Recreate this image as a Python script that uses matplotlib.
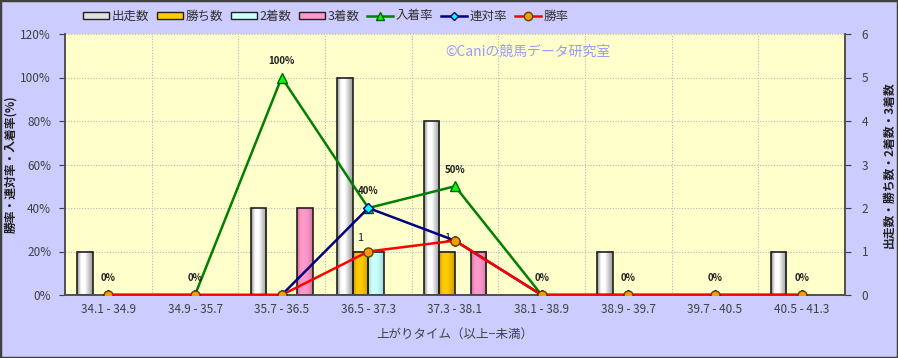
import numpy as np
import matplotlib
matplotlib.use("Agg")
import matplotlib.pyplot as plt
from matplotlib.patches import Rectangle, Patch
from matplotlib.lines import Line2D
from matplotlib.colors import LinearSegmentedColormap

plt.rcParams['font.family'] = ['Noto Sans CJK JP', 'DejaVu Sans']

# data
categories = ['34.1 - 34.9', '34.9 - 35.7', '35.7 - 36.5', '36.5 - 37.3', '37.3 - 38.1',
              '38.1 - 38.9', '38.9 - 39.7', '39.7 - 40.5', '40.5 - 41.3']
starts = [1, 0, 2, 5, 4, 0, 1, 0, 1]
wins = [0, 0, 0, 1, 1, 0, 0, 0, 0]
seconds = [0, 0, 0, 1, 0, 0, 0, 0, 0]
thirds = [0, 0, 2, 0, 1, 0, 0, 0, 0]
place_rate = [0, 0, 100, 40, 50, 0, 0, 0, 0]
rentai_rate = [0, 0, 0, 40, 25, 0, 0, 0, 0]
win_rate = [0, 0, 0, 20, 25, 0, 0, 0, 0]

bg = '#CCCCFF'
plotbg = '#FFFFCC'
txt = '#404040'

fig = plt.figure(figsize=(8.98, 3.58), dpi=100, facecolor=bg)
ax = fig.add_axes([65/898, 1-295/358, 780/898, 261/358])
ax.set_facecolor(plotbg)
ax2 = ax.twinx()
ax2.patch.set_visible(False)

x = np.arange(len(categories))
w = 0.179

def shaded_bars(vals, offset, cols):
    cmap = LinearSegmentedColormap.from_list('s', cols)
    grad = np.linspace(0, 1, 64).reshape(1, -1)
    bars = ax.bar(x + offset, vals, w, align='edge', facecolor='none',
                  edgecolor='#202020', linewidth=1.2, zorder=3)
    for b in bars:
        if b.get_height() <= 0:
            b.set_visible(False)
            continue
        ax.imshow(grad, cmap=cmap, aspect='auto', zorder=2.5, interpolation='bicubic',
                  extent=[b.get_x(), b.get_x() + b.get_width(), 0, b.get_height()])
    return bars

shaded_bars(starts, -2*w, ['#8a8a8a', '#ffffff', '#ffffff', '#c8c8c8', '#9a9a9a'])
shaded_bars(wins, -w, ['#c89800', '#ffcc00', '#ffcc00', '#e8b800', '#c89800'])
shaded_bars(seconds, 0, ['#99d8d8', '#ccffff', '#ccffff', '#bff0f0', '#99d8d8'])
shaded_bars(thirds, w, ['#d07098', '#ff99cc', '#ff99cc', '#f090c0', '#d07098'])

for i, v in enumerate(wins):
    if v > 0:
        ax.annotate(str(v), (x[i] - w/2, v), xytext=(0, 10), textcoords='offset points',
                    ha='center', va='center', fontsize=8, color='#202020', zorder=6)

ax.set_xlim(-0.5, len(categories) - 0.5)
ax.set_ylim(0, 6)
ax.set_yticks(range(0, 7))
ax.set_xticks(x)
ax.set_xticklabels(categories)
ax.set_xticks(np.arange(0.5, len(categories) - 0.5, 1), minor=True)
ax.grid(True, which='minor', axis='x', color='#b8b8b8', linestyle=(0, (1, 1.5)), linewidth=0.8)
ax.grid(True, which='major', axis='y', color='#b8b8b8', linestyle=(0, (1, 1.5)), linewidth=0.8)
ax.tick_params(axis='x', which='both', length=0, pad=6, labelsize=8.5, labelcolor=txt)
ax.set_axisbelow(True)
ax.yaxis.tick_right()
ax.yaxis.set_label_position('right')
ax.tick_params(axis='y', length=4, direction='out', labelsize=8.5, labelcolor=txt, pad=8, color=txt)
ax.set_ylabel('出走数・勝ち数・2着数・3着数', rotation=90, fontsize=8.5, fontweight='bold',
              color='#202020', labelpad=10)
ax.set_xlabel('上がりタイム（以上−未満）', fontsize=9, color=txt, labelpad=8)

ax2.plot(x, place_rate, color='#008000', linewidth=1.8, marker='^', markersize=7,
         markerfacecolor='#00ff00', markeredgecolor='#006000', zorder=3)
ax2.plot(x, rentai_rate, color='#000080', linewidth=1.8, marker='D', markersize=5,
         markerfacecolor='#00ffff', markeredgecolor='#000080', zorder=4)
ax2.plot(x, win_rate, color='#ff0000', linewidth=1.8, marker='o', markersize=6.5,
         markerfacecolor='#ff9900', markeredgecolor='#604000', zorder=5)
for i, v in enumerate(place_rate):
    ax2.annotate('%d%%' % v, (x[i], v), xytext=(0, 12), textcoords='offset points',
                 ha='center', va='center', fontsize=7, fontweight='bold', color='#202020', zorder=6)

ax2.set_ylim(0, 120)
ax2.set_yticks(range(0, 121, 20))
ax2.set_yticklabels(['%d%%' % t for t in range(0, 121, 20)])
ax2.yaxis.tick_left()
ax2.yaxis.set_label_position('left')
ax2.tick_params(axis='y', length=4, direction='out', labelsize=8.5, labelcolor=txt, pad=6, color=txt)
ax2.set_ylabel('勝率・連対率・入着率(%)', rotation=90, fontsize=8.5, fontweight='bold',
               color='#202020', labelpad=2)

for a in (ax, ax2):
    a.spines['top'].set_visible(False)
    for s in ('left', 'right', 'bottom'):
        a.spines[s].set_color('#505050')
        a.spines[s].set_linewidth(1.2)

ax.text(0.488, 0.93, '©Caniの競馬データ研究室', transform=ax.transAxes, fontsize=10,
        color='#9999ff', ha='left', va='center', zorder=7)

handles = [
    Patch(facecolor='#e0e0e0', edgecolor='#202020', label='出走数'),
    Patch(facecolor='#ffcc00', edgecolor='#202020', label='勝ち数'),
    Patch(facecolor='#ccffff', edgecolor='#202020', label='2着数'),
    Patch(facecolor='#ff99cc', edgecolor='#202020', label='3着数'),
    Line2D([], [], color='#008000', linewidth=1.8, marker='^', markersize=6,
           markerfacecolor='#00ff00', markeredgecolor='#006000', label='入着率'),
    Line2D([], [], color='#000080', linewidth=1.8, marker='D', markersize=4.5,
           markerfacecolor='#00ffff', markeredgecolor='#000080', label='連対率'),
    Line2D([], [], color='#ff0000', linewidth=1.8, marker='o', markersize=6,
           markerfacecolor='#ff9900', markeredgecolor='#604000', label='勝率'),
]
leg = fig.legend(handles=handles, loc='center left', bbox_to_anchor=(78/898, 1-16/358),
                 ncol=7, frameon=False, fontsize=9, handlelength=2.1, handleheight=0.5,
                 handletextpad=0.2, columnspacing=0.6, borderaxespad=0)
for t in leg.get_texts():
    t.set_color('#303030')

fig.patches.append(Rectangle((0, 0), 1, 1, transform=fig.transFigure, fill=False,
                             edgecolor='#404040', linewidth=2.5))

fig.savefig('out.png', dpi=100, facecolor=bg)
